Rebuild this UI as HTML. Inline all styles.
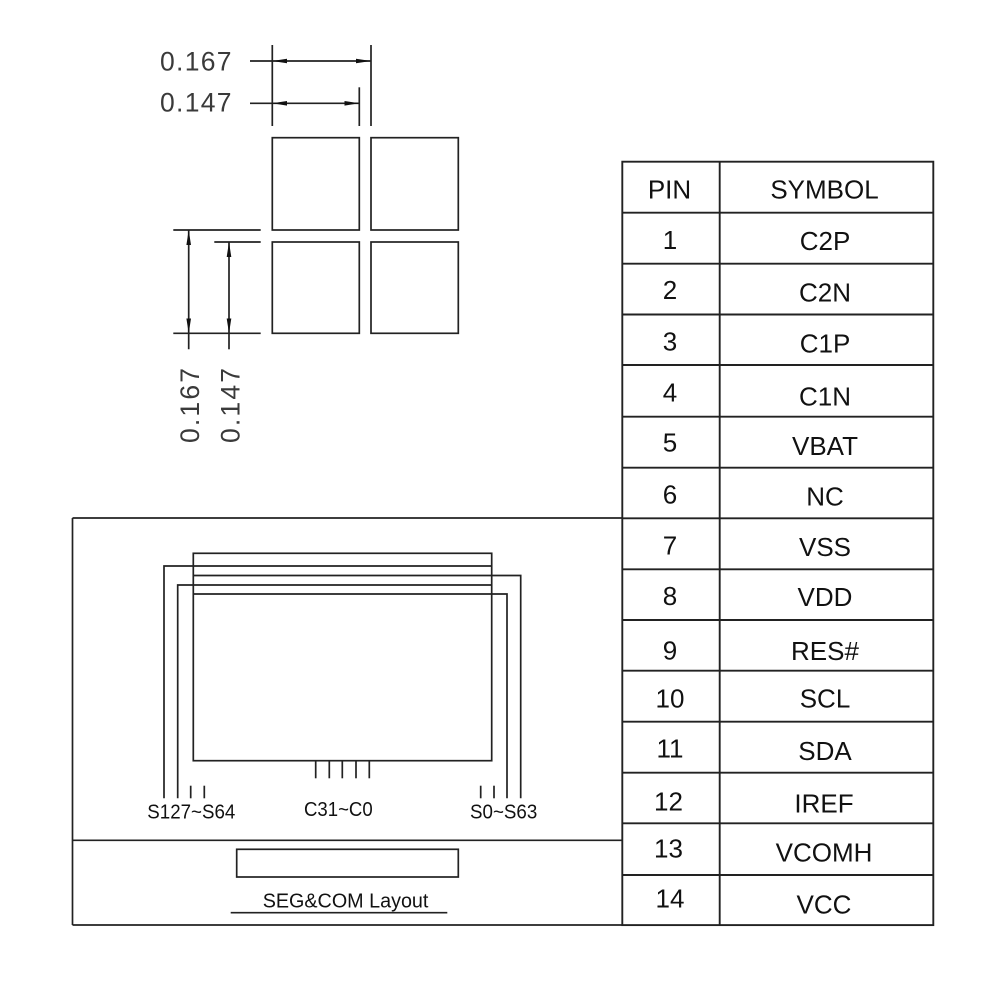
<!DOCTYPE html>
<html>
<head>
<meta charset="utf-8">
<style>
  html, body { margin: 0; padding: 0; background: #ffffff; }
  svg { display: block; }
  text { font-family: "Liberation Sans", Arial, sans-serif; fill: #111; }
  .dim { fill: #3a3a3a; }
</style>
</head>
<body>
<svg width="1000" height="1000" viewBox="0 0 1000 1000" xmlns="http://www.w3.org/2000/svg">
  <rect x="0" y="0" width="1000" height="1000" fill="#ffffff"/>

  <!-- ===== Top-left dimension drawing ===== -->
  <g stroke="#222" stroke-width="1.7" fill="none">
    <line x1="250" y1="61" x2="371" y2="61"/>
    <line x1="250" y1="103.3" x2="359.3" y2="103.3"/>
    <line x1="272.3" y1="45" x2="272.3" y2="126"/>
    <line x1="371" y1="45" x2="371" y2="126"/>
    <line x1="359.3" y1="87.3" x2="359.3" y2="126"/>
    <rect x="272.3" y="137.7" width="87" height="92.3"/>
    <rect x="371" y="137.7" width="87.3" height="92.3"/>
    <rect x="272.3" y="242" width="87" height="91.3"/>
    <rect x="371" y="242" width="87.3" height="91.3"/>
    <line x1="173.3" y1="230" x2="260.7" y2="230"/>
    <line x1="214.3" y1="242" x2="260.7" y2="242"/>
    <line x1="173.3" y1="333.3" x2="260.7" y2="333.3"/>
    <line x1="188.7" y1="230" x2="188.7" y2="349.3"/>
    <line x1="229" y1="242" x2="229" y2="349.3"/>
  </g>
  <g fill="#111" stroke="none">
    <polygon points="272.3,61 287,58.7 287,63.3"/>
    <polygon points="371,61 356,58.7 356,63.3"/>
    <polygon points="272.3,103.3 287,101 287,105.6"/>
    <polygon points="359.3,103.3 344.5,101 344.5,105.6"/>
    <polygon points="188.7,230 186.4,245 191,245"/>
    <polygon points="188.7,333.3 186.4,318.5 191,318.5"/>
    <polygon points="229,242 226.7,257 231.3,257"/>
    <polygon points="229,333.3 226.7,318.5 231.3,318.5"/>
  </g>
  <text class="dim" x="160" y="70.7" font-size="26.5" textLength="71.5" lengthAdjust="spacing">0.167</text>
  <text class="dim" x="160" y="111.7" font-size="26.5" textLength="71.5" lengthAdjust="spacing">0.147</text>
  <text class="dim" transform="translate(199,405.5) rotate(-90)" x="0" y="0" font-size="26.5" text-anchor="middle" textLength="75" lengthAdjust="spacing">0.167</text>
  <text class="dim" transform="translate(239.3,405.5) rotate(-90)" x="0" y="0" font-size="26.5" text-anchor="middle" textLength="75" lengthAdjust="spacing">0.147</text>

  <!-- ===== Bottom-left SEG&COM layout ===== -->
  <g stroke="#222" stroke-width="1.7" fill="none">
    <line x1="72.5" y1="518" x2="622" y2="518"/>
    <line x1="72.5" y1="518" x2="72.5" y2="925"/>
    <line x1="72.5" y1="925" x2="622" y2="925"/>
    <line x1="72.5" y1="840.3" x2="622" y2="840.3"/>
    <rect x="193.3" y="553.3" width="298.4" height="207.4"/>
    <polyline points="491.7,566 164,566 164,798.3"/>
    <polyline points="193.3,575.5 520.7,575.5 520.7,798.3"/>
    <polyline points="491.7,585 177.7,585 177.7,798.3"/>
    <polyline points="193.3,594 507,594 507,798.3"/>
    <line x1="190.7" y1="785.7" x2="190.7" y2="798.3"/>
    <line x1="204.3" y1="785.7" x2="204.3" y2="798.3"/>
    <line x1="480.7" y1="785.7" x2="480.7" y2="798.3"/>
    <line x1="494" y1="785.7" x2="494" y2="798.3"/>
    <line x1="315.7" y1="760.7" x2="315.7" y2="778.3"/>
    <line x1="329.3" y1="760.7" x2="329.3" y2="778.3"/>
    <line x1="342.3" y1="760.7" x2="342.3" y2="778.3"/>
    <line x1="356" y1="760.7" x2="356" y2="778.3"/>
    <line x1="369.3" y1="760.7" x2="369.3" y2="778.3"/>
    <rect x="236.7" y="849.3" width="221.6" height="27.7"/>
    <line x1="230.7" y1="912.7" x2="447.3" y2="912.7"/>
  </g>
  <text x="147.3" y="818.3" font-size="20.5" textLength="88" lengthAdjust="spacingAndGlyphs">S127~S64</text>
  <text x="304" y="816" font-size="20.5" textLength="68.7" lengthAdjust="spacingAndGlyphs">C31~C0</text>
  <text x="470" y="818.3" font-size="20.5" textLength="67.3" lengthAdjust="spacingAndGlyphs">S0~S63</text>
  <text x="262.7" y="907.3" font-size="20" textLength="165.7" lengthAdjust="spacingAndGlyphs">SEG&amp;COM Layout</text>

  <!-- ===== Pin table ===== -->
  <g stroke="#222" stroke-width="1.9" fill="none">
    <rect x="622.3" y="161.7" width="311" height="763.4"/>
    <line x1="719.7" y1="161.7" x2="719.7" y2="925.1"/>
    <line x1="622.3" y1="212.7" x2="933.3" y2="212.7"/>
    <line x1="622.3" y1="263.7" x2="933.3" y2="263.7"/>
    <line x1="622.3" y1="314.5" x2="933.3" y2="314.5"/>
    <line x1="622.3" y1="365" x2="933.3" y2="365"/>
    <line x1="622.3" y1="416.7" x2="933.3" y2="416.7"/>
    <line x1="622.3" y1="467.7" x2="933.3" y2="467.7"/>
    <line x1="622.3" y1="518.3" x2="933.3" y2="518.3"/>
    <line x1="622.3" y1="569.3" x2="933.3" y2="569.3"/>
    <line x1="622.3" y1="620" x2="933.3" y2="620"/>
    <line x1="622.3" y1="670.7" x2="933.3" y2="670.7"/>
    <line x1="622.3" y1="721.7" x2="933.3" y2="721.7"/>
    <line x1="622.3" y1="772.7" x2="933.3" y2="772.7"/>
    <line x1="622.3" y1="823.3" x2="933.3" y2="823.3"/>
    <line x1="622.3" y1="875" x2="933.3" y2="875"/>
  </g>
  <g font-size="26" text-anchor="middle">
    <text x="669.5" y="198.3">PIN</text>
    <text x="824.5" y="198.3">SYMBOL</text>
    <text x="670" y="249">1</text>
    <text x="825" y="250">C2P</text>
    <text x="670" y="299">2</text>
    <text x="825" y="301.7">C2N</text>
    <text x="670" y="350.5">3</text>
    <text x="825" y="352.5">C1P</text>
    <text x="670" y="401.7">4</text>
    <text x="825" y="405.7">C1N</text>
    <text x="670" y="451.7">5</text>
    <text x="825" y="455">VBAT</text>
    <text x="670" y="503.3">6</text>
    <text x="825" y="505.7">NC</text>
    <text x="670" y="554.3">7</text>
    <text x="825" y="556">VSS</text>
    <text x="670" y="605">8</text>
    <text x="825" y="606">VDD</text>
    <text x="670" y="659.3">9</text>
    <text x="825" y="660">RES#</text>
    <text x="670" y="707.3">10</text>
    <text x="825" y="707.7">SCL</text>
    <text x="670" y="757.7">11</text>
    <text x="825" y="760">SDA</text>
    <text x="668.5" y="810.7">12</text>
    <text x="824" y="812.3">IREF</text>
    <text x="668.5" y="857.7">13</text>
    <text x="824" y="861.7">VCOMH</text>
    <text x="670" y="907.7">14</text>
    <text x="824" y="913.3">VCC</text>
  </g>
</svg>
</body>
</html>
